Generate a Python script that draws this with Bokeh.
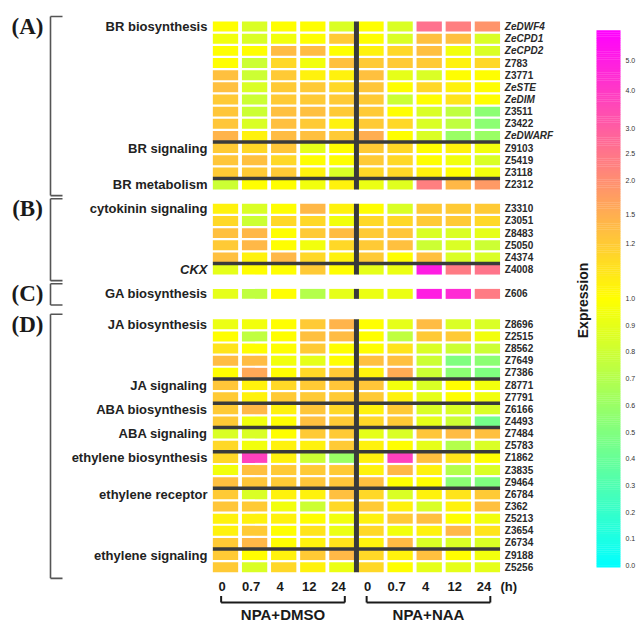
import numpy as np
from bokeh.plotting import figure
from bokeh.models import Range1d, ColumnDataSource
from bokeh.core.properties import value
from bokeh.transform import linear_cmap
from bokeh.embed import file_html
from bokeh.resources import INLINE

# ---------------- data ----------------
time_labels = ["0", "0.7", "4", "12", "24"]
treatments = ["NPA+DMSO", "NPA+NAA"]

genes_A = ["ZeDWF4", "ZeCPD1", "ZeCPD2", "Z783", "Z3771", "ZeSTE", "ZeDIM",
           "Z3511", "Z3422", "ZeDWARF", "Z9103", "Z5419", "Z3118", "Z2312"]
vals_A = [
    [1.00, 0.85, 1.00, 1.00, 0.85, 1.00, 0.85, 2.60, 2.30, 1.90],
    [0.95, 0.85, 0.95, 1.00, 1.20, 1.00, 0.85, 1.30, 1.30, 0.85],
    [1.00, 1.00, 1.35, 1.35, 1.00, 1.05, 1.15, 1.30, 0.95, 0.85],
    [1.00, 0.80, 1.15, 0.95, 1.30, 1.20, 1.20, 1.20, 1.05, 1.15],
    [1.30, 0.80, 1.20, 1.05, 1.05, 1.30, 0.90, 0.85, 1.00, 1.00],
    [1.30, 0.85, 1.20, 1.20, 1.15, 1.25, 1.00, 1.15, 1.05, 1.00],
    [1.20, 0.80, 1.20, 1.20, 1.20, 1.20, 0.80, 1.00, 1.10, 1.00],
    [1.25, 0.80, 1.30, 1.30, 1.20, 1.20, 1.00, 0.85, 0.75, 0.55],
    [1.25, 0.85, 1.30, 1.20, 1.05, 1.20, 1.15, 0.85, 0.75, 0.55],
    [1.45, 1.05, 1.35, 1.30, 1.20, 1.50, 1.00, 0.85, 0.60, 0.60],
    [1.20, 1.15, 1.25, 0.90, 1.00, 1.20, 1.15, 1.00, 1.05, 0.95],
    [1.25, 1.30, 1.15, 1.00, 1.00, 1.20, 1.15, 1.00, 0.95, 0.85],
    [1.20, 1.20, 1.20, 1.05, 0.85, 1.15, 1.15, 1.05, 1.00, 0.95],
    [0.80, 1.00, 1.00, 0.95, 1.05, 0.92, 0.88, 2.30, 1.40, 1.80],
]
groups_A = [("BR biosynthesis", 0), ("BR signaling", 10), ("BR metabolism", 13)]

genes_B = ["Z3310", "Z3051", "Z8483", "Z5050", "Z4374", "Z4008"]
vals_B = [
    [1.05, 0.85, 1.00, 1.40, 1.05, 1.00, 0.85, 1.20, 1.20, 1.20],
    [1.15, 0.80, 1.15, 1.15, 0.95, 1.15, 1.15, 1.20, 1.20, 1.15],
    [1.30, 1.40, 1.00, 1.20, 1.35, 1.20, 1.25, 0.85, 0.85, 0.90],
    [1.20, 1.40, 1.00, 0.95, 1.15, 1.20, 1.30, 0.80, 0.85, 0.80],
    [1.30, 1.05, 1.40, 1.15, 1.05, 1.20, 1.00, 1.30, 0.85, 0.85],
    [0.90, 1.00, 1.00, 1.20, 1.00, 0.90, 0.92, 5.00, 2.40, 2.50],
]
groups_B = [("cytokinin signaling", 0), ("CKX", 5)]

genes_C = ["Z606"]
vals_C = [
    [0.90, 0.75, 1.00, 0.70, 0.90, 0.92, 0.92, 5.00, 4.50, 2.40],
]
groups_C = [("GA biosynthesis", 0)]

genes_D = ["Z8696", "Z2515", "Z8562", "Z7649", "Z7386", "Z8771", "Z7791",
           "Z6166", "Z4493", "Z7484", "Z5783", "Z1862", "Z3835", "Z9464",
           "Z6784", "Z362", "Z5213", "Z3654", "Z6734", "Z9188", "Z5256"]
vals_D = [
    [0.92, 0.95, 1.00, 1.20, 1.45, 1.00, 0.90, 1.35, 0.85, 0.85],
    [1.00, 0.75, 1.00, 1.30, 1.35, 1.00, 0.75, 1.20, 1.20, 0.95],
    [1.10, 1.00, 1.00, 1.20, 1.00, 1.00, 1.10, 0.85, 0.80, 0.80],
    [1.35, 1.35, 0.95, 0.90, 1.00, 1.30, 1.30, 0.80, 0.50, 0.55],
    [1.00, 1.60, 1.00, 1.15, 1.20, 1.05, 1.55, 0.80, 0.55, 0.50],
    [1.25, 1.05, 1.15, 1.20, 1.25, 1.25, 0.95, 0.85, 1.00, 0.95],
    [1.20, 1.05, 1.20, 1.20, 1.20, 1.20, 1.05, 0.90, 1.00, 0.95],
    [1.20, 1.40, 1.05, 1.25, 1.15, 1.05, 1.20, 0.85, 0.85, 0.85],
    [1.20, 0.95, 1.00, 1.30, 1.20, 1.15, 1.20, 0.90, 0.80, 0.45],
    [0.85, 0.85, 1.00, 1.20, 1.20, 0.90, 0.85, 1.25, 1.35, 1.30],
    [1.15, 0.95, 1.05, 1.05, 1.20, 1.05, 1.00, 0.90, 0.70, 0.85],
    [1.15, 3.80, 1.05, 0.80, 0.60, 1.05, 3.80, 1.30, 1.10, 1.00],
    [0.95, 1.30, 1.20, 1.20, 1.20, 1.05, 1.40, 1.05, 0.70, 0.85],
    [1.30, 1.25, 1.20, 1.25, 1.25, 1.30, 1.00, 1.00, 0.55, 0.50],
    [1.20, 0.85, 1.05, 1.05, 1.30, 1.15, 0.85, 1.05, 1.10, 1.20],
    [1.25, 1.20, 0.95, 0.80, 1.15, 1.20, 1.05, 0.85, 1.05, 1.30],
    [1.05, 1.05, 1.05, 1.00, 0.95, 1.05, 1.20, 1.30, 1.00, 0.95],
    [1.05, 1.20, 1.00, 1.10, 0.92, 1.15, 0.95, 1.05, 1.40, 1.10],
    [1.20, 1.40, 1.00, 1.05, 1.10, 1.05, 1.35, 0.85, 0.85, 0.85],
    [1.20, 1.00, 1.05, 1.20, 1.40, 1.15, 1.05, 1.30, 1.00, 0.95],
    [1.20, 0.85, 1.15, 1.05, 0.92, 1.15, 1.00, 0.90, 0.90, 0.90],
]
groups_D = [("JA biosynthesis", 0), ("JA signaling", 5), ("ABA biosynthesis", 7),
            ("ABA signaling", 9), ("ethylene biosynthesis", 11),
            ("ethylene receptor", 14), ("ethylene signaling", 19)]

italic_genes = ["ZeDWF4", "ZeCPD1", "ZeCPD2", "ZeSTE", "ZeDIM", "ZeDWARF"]
italic_groups = ["CKX"]

panel_letters = ["(A)", "(B)", "(C)", "(D)"]

cbar_tick_labels = ["0.0", "0.1", "0.2", "0.3", "0.4", "0.5", "0.6", "0.7", "0.8",
                    "0.9", "1.0", "1.2", "1.5", "2.0", "2.5", "3.0", "4.0", "5.0"]
cbar_tick_values = [float(s) for s in cbar_tick_labels]
colorbar_title = "Expression"

# ---------------- layout constants ----------------
W, H = 644, 628
X0, CW = 210.45, 29.1     # px of column-0 left edge, px per column
Y0, RH = 20.0, 12.15      # px of first row top, px per row
section_offsets = [0.0, 15.0, 22.0, 24.5]   # in row units
BAR_TOP, BAR_BOTTOM, BAR_L, BAR_R = 30.0, 567.0, 596.0, 620.0
tick_pos_px = [565.0, 538.3, 511.6, 484.9, 458.2, 431.5, 404.8, 378.1, 351.4,
               324.7, 298.0, 243.0, 214.0, 180.0, 153.0, 128.0, 90.0, 60.0]

SANS = value("Liberation Sans")
SERIF = value("Liberation Serif")


def row_px(r):
    return Y0 + r * RH


def val_to_t(v):
    y = np.interp(v, cbar_tick_values, tick_pos_px)
    return (BAR_BOTTOM - y) / (BAR_BOTTOM - BAR_TOP)


def cmap(t):
    if t <= 0.5:
        f = t / 0.5
        r, g, b = 255 * f, 255, 255 * (1 - f)
    else:
        f = (t - 0.5) / 0.5
        r, g, b = 255, 255 * (1 - f), 255 * f
    return "#%02x%02x%02x" % (int(round(r)), int(round(g)), int(round(b)))


N_PAL = 256
palette = [cmap((i + 0.5) / N_PAL) for i in range(N_PAL)]

p = figure(width=W, height=H, output_backend="svg", toolbar_location=None,
           x_range=Range1d((0 - X0) / CW, (W - X0) / CW),
           y_range=Range1d((H - Y0) / RH, (0 - Y0) / RH),
           x_axis_type=None, y_axis_type=None, min_border=0,
           background_fill_color="white", border_fill_color="white")
p.outline_line_color = None
p.grid.visible = False
p.extra_x_ranges = {"px": Range1d(0, W)}
p.extra_y_ranges = {"px": Range1d(H, 0)}

sections = [
    (genes_A, vals_A, groups_A),
    (genes_B, vals_B, groups_B),
    (genes_C, vals_C, groups_C),
    (genes_D, vals_D, groups_D),
]

cx, cy, ct = [], [], []
gl_x, gl_y, gl_t, gi_x, gi_y, gi_t = [], [], [], [], [], []
sl_y, sl_t, si_y, si_t = [], [], [], []
hx0, hx1, hy = [], [], []
vy0, vy1 = [], []
br_top, br_bot, pl_y = [], [], []

ncol = len(time_labels) * len(treatments)
for (genes, vals, groups), off in zip(sections, section_offsets):
    for r, (g, row) in enumerate(zip(genes, vals)):
        yc = off + r + 0.5
        for c, v in enumerate(row):
            cx.append(c + 0.5)
            cy.append(yc)
            ct.append(val_to_t(v))
        if g in italic_genes:
            gi_x.append(ncol + 0.1); gi_y.append(yc); gi_t.append(g)
        else:
            gl_x.append(ncol + 0.1); gl_y.append(yc); gl_t.append(g)
    for name, start in groups:
        if name in italic_groups:
            si_y.append(off + start + 0.5); si_t.append(name)
        else:
            sl_y.append(off + start + 0.5); sl_t.append(name)
        if start > 0:
            hx0.append(0.065); hx1.append(ncol - 0.065); hy.append(off + start)
    vy0.append(off + 0.09)
    vy1.append(off + len(genes) - 0.09)
    br_top.append(row_px(off) - 4)
    br_bot.append(row_px(off + len(genes)) + 5)
    pl_y.append(row_px(off + 0.5))

cells = ColumnDataSource(dict(x=cx, y=cy, t=ct))
p.rect(x="x", y="y", width=0.87, height=0.82, source=cells,
       fill_color=linear_cmap("t", palette, 0, 1), line_color=None)

# group dividers
p.segment(x0=hx0, y0=hy, x1=hx1, y1=hy, line_color="#3a3a3a", line_width=3.5)
p.segment(x0=[ncol / 2] * len(vy0), y0=vy0, x1=[ncol / 2] * len(vy0), y1=vy1,
          line_color="#3a3a3a", line_width=5)

# gene labels
p.text(x=gl_x, y=gl_y, text=gl_t, text_font=SANS, text_font_style="bold",
       text_font_size="10px", text_baseline="middle", text_align="left",
       text_color="#2a2a2a")
p.text(x=gi_x, y=gi_y, text=gi_t, text_font=SANS, text_font_style="bold italic",
       text_font_size="10px", text_baseline="middle", text_align="left",
       text_color="#2a2a2a")

# group labels
p.text(x=[-0.12] * len(sl_y), y=sl_y, text=sl_t, text_font=SANS,
       text_font_style="bold", text_font_size="13px", text_baseline="middle",
       text_align="right", text_color="#222222")
p.text(x=[-0.12] * len(si_y), y=si_y, text=si_t, text_font=SANS,
       text_font_style="bold italic", text_font_size="13px",
       text_baseline="middle", text_align="right", text_color="#222222")

# panel letters and brackets
p.text(x=[27] * 4, y=pl_y, text=panel_letters, text_font=SERIF,
       text_font_style="bold", text_font_size="23px", text_baseline="middle",
       text_align="center", text_color="#1a1a1a",
       x_range_name="px", y_range_name="px")
p.segment(x0=[50] * 4, y0=br_top, x1=[50] * 4, y1=br_bot, line_color="#555555",
          line_width=1.6, x_range_name="px", y_range_name="px")
p.segment(x0=[50] * 8, y0=br_top + br_bot, x1=[62] * 8, y1=br_top + br_bot,
          line_color="#555555", line_width=1.6, x_range_name="px", y_range_name="px")

# time labels
tl_x = [c + 0.5 - 0.12 for c in range(ncol)]
tl_t = time_labels * len(treatments)
p.text(x=tl_x, y=[586] * ncol, text=tl_t, text_font=SANS, text_font_style="bold",
       text_font_size="13px", text_baseline="middle", text_align="center",
       text_color="#1a1a1a", y_range_name="px")
p.text(x=[ncol - 0.05], y=[586], text=["(h)"], text_font=SANS,
       text_font_style="bold", text_font_size="13px", text_baseline="middle",
       text_align="left", text_color="#1a1a1a", y_range_name="px")

# treatment brackets
nt = len(time_labels)
bx0 = [k * nt + 0.35 for k in range(len(treatments))]
bx1 = [k * nt + nt - 0.4 for k in range(len(treatments))]
p.segment(x0=bx0, y0=[602] * 2, x1=bx1, y1=[602] * 2, line_color="#1a1a1a",
          line_width=2, y_range_name="px")
p.segment(x0=bx0 + bx1, y0=[602] * 4, x1=bx0 + bx1, y1=[595.5] * 4,
          line_color="#1a1a1a", line_width=2, y_range_name="px")
p.text(x=[(a + b) / 2 for a, b in zip(bx0, bx1)], y=[614] * 2, text=treatments,
       text_font=SANS, text_font_style="bold", text_font_size="15px",
       text_baseline="middle", text_align="center", text_color="#1a1a1a",
       y_range_name="px")

# colour bar
step = (BAR_BOTTOM - BAR_TOP) / N_PAL
qb = [BAR_BOTTOM - i * step for i in range(N_PAL)]
qt = [b - step - 0.3 for b in qb]
p.quad(left=[BAR_L] * N_PAL, right=[BAR_R] * N_PAL, bottom=qb, top=qt,
       fill_color=palette, line_color=None, x_range_name="px", y_range_name="px")
p.text(x=[625] * len(cbar_tick_labels), y=tick_pos_px, text=cbar_tick_labels,
       text_font=SANS, text_font_size="7px", text_baseline="middle",
       text_align="left", text_color="#333333", x_range_name="px", y_range_name="px")
p.text(x=[582], y=[300], text=[colorbar_title], angle=np.pi / 2, text_font=SANS,
       text_font_style="bold", text_font_size="14px", text_baseline="middle",
       text_align="center", text_color="#1a1a1a", x_range_name="px", y_range_name="px")

open("out.html", "w").write(file_html(p, INLINE))
